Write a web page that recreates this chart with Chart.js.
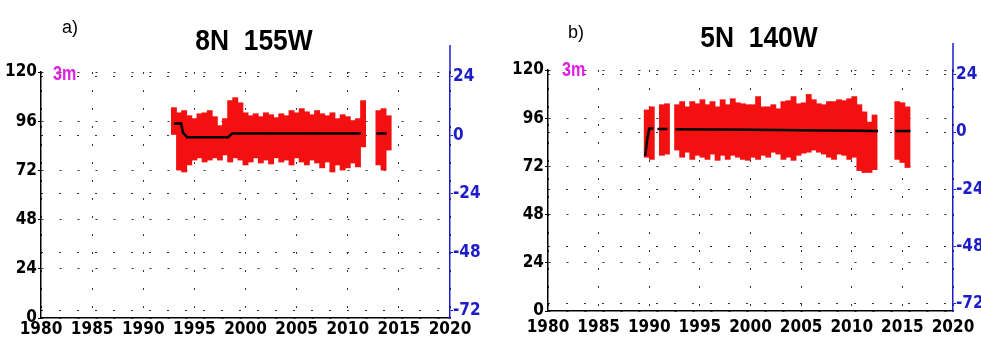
<!DOCTYPE html>
<html>
<head>
<meta charset="utf-8">
<script src="https://cdn.jsdelivr.net/npm/chart.js@4"></script>
<style>
  html, body { margin: 0; padding: 0; background: #fff; }
  #wrap { position: relative; width: 981px; height: 342px; overflow: hidden; }
  #chartA { position: absolute; left: 0; top: 0; }
  #chartB { position: absolute; left: 490px; top: 0; }
</style>
</head>
<body>
<div id="wrap">
  <canvas id="chartA" width="490" height="342"></canvas>
  <canvas id="chartB" width="491" height="342"></canvas>
</div>
<script>
// axis ticks
const yearTicks = [1980, 1985, 1990, 1995, 2000, 2005, 2010, 2015, 2020];
const leftTicks = [0, 24, 48, 72, 96, 120];
const rightTicks = [-72, -48, -24, 0, 24];

// panel a) 8N 155W - half-year ranges of the 3m record (right axis units)
const binsA = [1993.0, 1993.5, 1994.0, 1994.5, 1995.0, 1995.5, 1996.0, 1996.5, 1997.0, 1997.5,
  1998.0, 1998.5, 1999.0, 1999.5, 2000.0, 2000.5, 2001.0, 2001.5, 2002.0, 2002.5,
  2003.0, 2003.5, 2004.0, 2004.5, 2005.0, 2005.5, 2006.0, 2006.5, 2007.0, 2007.5,
  2008.0, 2008.5, 2009.0, 2009.5, 2010.0, 2010.5, 2011.0, 2011.5, 2013.0, 2013.5, 2014.0];
const highA = [11.5, 9.4, 10.3, 8.2, 7.0, 9.0, 9.4, 10.3, 7.8, 4.1,
  7.0, 14.4, 15.6, 13.5, 9.4, 8.2, 9.0, 7.8, 9.4, 8.6,
  7.4, 9.0, 8.2, 10.3, 9.4, 11.1, 9.8, 8.6, 10.3, 9.0,
  8.2, 9.4, 7.0, 8.6, 7.8, 6.2, 7.0, 14.4, 10.3, 11.1, 8.2];
const lowA = [0.0, -14.4, -15.2, -12.3, -10.3, -9.4, -11.1, -10.3, -9.4, -10.3,
  -8.2, -11.1, -9.4, -10.3, -12.3, -11.1, -9.4, -11.5, -10.3, -11.9,
  -9.4, -11.1, -10.3, -12.3, -9.4, -11.1, -12.3, -10.3, -11.5, -13.5,
  -11.1, -15.2, -12.3, -14.4, -13.5, -11.5, -13.1, -4.9, -12.3, -14.4, -6.2];
const meanYearsA = [1993.0, 1993.7, 1993.9, 1994.3, 1998.3, 1998.7, 2011.3, 2012.0, 2012.8, 2013.8];
const meanA = [4.9, 4.9, 1.0, -0.8, -0.8, 0.8, 0.8, null, 0.8, 0.8];

// panel b) 5N 140W
const binsB = [1989.75, 1990.25, 1991.25, 1991.75, 1992.75, 1993.25, 1993.75, 1994.25, 1994.75, 1995.25,
  1995.75, 1996.25, 1996.75, 1997.25, 1997.75, 1998.25, 1998.75, 1999.25, 1999.75, 2000.25,
  2000.75, 2001.25, 2001.75, 2002.25, 2002.75, 2003.25, 2003.75, 2004.25, 2004.75, 2005.25,
  2005.75, 2006.25, 2006.75, 2007.25, 2007.75, 2008.25, 2008.75, 2009.25, 2009.75, 2010.25,
  2010.75, 2011.25, 2011.75, 2012.25, 2014.5, 2015.0, 2015.5];
const highB = [9.4, 10.7, 11.6, 12.0, 11.6, 12.9, 10.7, 12.9, 12.0, 13.7,
  11.6, 12.9, 10.7, 13.7, 11.6, 14.1, 12.4, 12.0, 11.6, 11.6,
  15.0, 10.7, 10.7, 11.6, 9.9, 12.9, 13.3, 15.0, 12.0, 12.4,
  15.9, 13.7, 12.0, 11.6, 12.9, 12.9, 13.7, 13.3, 14.1, 15.0,
  11.6, 8.6, 4.3, 7.3, 12.9, 12.4, 10.7];
const lowB = [-10.7, -11.6, -9.9, -9.4, -7.7, -10.7, -8.6, -11.6, -9.9, -10.7,
  -11.6, -9.4, -12.0, -9.9, -11.6, -9.9, -10.7, -11.6, -12.0, -10.7,
  -11.6, -9.9, -10.7, -8.6, -9.4, -11.6, -10.7, -12.0, -9.9, -9.0,
  -8.6, -7.7, -8.6, -9.4, -10.7, -11.6, -9.4, -9.9, -11.6, -10.7,
  -16.3, -17.1, -17.1, -15.9, -11.6, -12.9, -15.0];
const meanYearsB = [1989.6, 1989.8, 1990.0, 1990.4, 1990.6, 1990.8, 1991.8, 1992.2, 1992.6, 2000.0, 2012.6, 2013.4, 2014.3, 2015.8];
const meanB = [-10, -3, 1.5, 1.5, null, 1.3, 1.3, null, 1.2, 1.0, 0.4, null, 0.4, 0.4];

const BLUE = '#1c1cc8';
const TICK_FONT = { family: '"DejaVu Sans Condensed", "Liberation Sans", Arial', size: 17, weight: 'bold' };

// titles, panel letters, depth label and the blue axis running above the plot
const decor = {
  id: 'decor',
  afterDraw(chart, args, o) {
    const ctx = chart.ctx;
    const a = chart.chartArea;
    ctx.save();
    ctx.strokeStyle = BLUE;
    ctx.lineWidth = 1.5;
    ctx.beginPath();
    ctx.moveTo(a.right, o.axisTop);
    ctx.lineTo(a.right, a.top);
    ctx.stroke();

    ctx.fillStyle = '#000';
    ctx.textBaseline = 'alphabetic';
    ctx.font = '18px "Liberation Sans", Arial';
    ctx.textAlign = 'left';
    ctx.fillText(o.tag, o.tagX, o.tagY);

    ctx.save();
    ctx.translate(o.titleX, o.titleY);
    ctx.scale(0.88, 1);
    ctx.font = 'bold 30px "Liberation Sans", Arial';
    ctx.textAlign = 'center';
    ctx.fillText(o.title, 0, 0);
    ctx.restore();

    ctx.save();
    ctx.translate(o.depthX, o.depthY);
    ctx.scale(0.85, 1.1);
    ctx.fillStyle = '#e020e0';
    ctx.font = 'bold 19px "Liberation Sans", Arial';
    ctx.textAlign = 'left';
    ctx.fillText('3m', 0, 0);
    ctx.restore();
    ctx.restore();
  }
};

function makeChart(id, bins, high, low, meanYears, mean, geo) {
  const bars = bins.map((x, i) => ({ x: x, y: [low[i], high[i]] }));
  const line = meanYears.map((x, i) => ({ x: x, y: mean[i] }));
  const dots = { color: '#333', lineWidth: 1 };

  return new Chart(document.getElementById(id), {
    type: 'bar',
    data: {
      datasets: [
        {
          type: 'line',
          data: line,
          yAxisID: 'y2',
          borderColor: '#000',
          borderWidth: 2.5,
          pointRadius: 0,
          spanGaps: false,
          order: 0
        },
        {
          type: 'bar',
          data: bars,
          yAxisID: 'y2',
          backgroundColor: '#f21010',
          borderWidth: 0,
          barPercentage: 1.15,
          categoryPercentage: 1,
          order: 1
        }
      ]
    },
    options: {
      responsive: false,
      animation: false,
      layout: { padding: { top: geo.top, left: 0, right: 0, bottom: 0 } },
      plugins: {
        legend: { display: false },
        tooltip: { enabled: false },
        decor: geo.text
      },
      scales: {
        x: {
          type: 'linear',
          min: 1980,
          max: 2020,
          offset: false,
          afterBuildTicks: s => { s.ticks = yearTicks.map(v => ({ value: v })); },
          afterFit: s => { s.height = geo.xHeight; },
          grid: Object.assign({ drawTicks: false, offset: false }, dots),
          border: { color: '#000', width: 1.5, dash: [2, 16] },
          ticks: { color: '#000', font: TICK_FONT, padding: geo.xPad, maxRotation: 0, autoSkip: false, callback: v => String(v) }
        },
        y: {
          position: 'left',
          min: 0,
          max: 120,
          afterBuildTicks: s => { s.ticks = leftTicks.map(v => ({ value: v })); },
          afterFit: s => { s.width = geo.leftW; },
          grid: Object.assign({ tickLength: 3, tickColor: '#000' }, dots),
          border: { color: '#000', width: 1.5, dash: [2, 16] },
          ticks: { color: '#000', font: TICK_FONT, padding: 1, callback: v => String(v) }
        },
        y2: {
          position: 'right',
          min: -75,
          max: 26,
          afterBuildTicks: s => { s.ticks = rightTicks.map(v => ({ value: v })); },
          afterFit: s => { s.width = geo.rightW; },
          grid: Object.assign({ tickLength: 3, tickColor: BLUE }, dots),
          border: { color: BLUE, width: 1.5, dash: [2, 16] },
          ticks: { color: BLUE, font: TICK_FONT, padding: 0, callback: v => String(v) }
        }
      }
    },
    plugins: [decor]
  });
}

makeChart('chartA', binsA, highA, lowA, meanYearsA, meanA, {
  top: 72, xHeight: 24, xPad: 1, leftW: 41, rightW: 40,
  text: { title: '8N  155W', titleX: 254, titleY: 50, tag: 'a)', tagX: 62, tagY: 33,
          depthX: 53, depthY: 80, axisTop: 45 }
});

makeChart('chartB', binsB, highB, lowB, meanYearsB, meanB, {
  top: 70, xHeight: 31, xPad: 6, leftW: 58, rightW: 28,
  text: { title: '5N  140W', titleX: 269, titleY: 47, tag: 'b)', tagX: 78, tagY: 38,
          depthX: 72, depthY: 76, axisTop: 43 }
});
</script>
</body>
</html>
